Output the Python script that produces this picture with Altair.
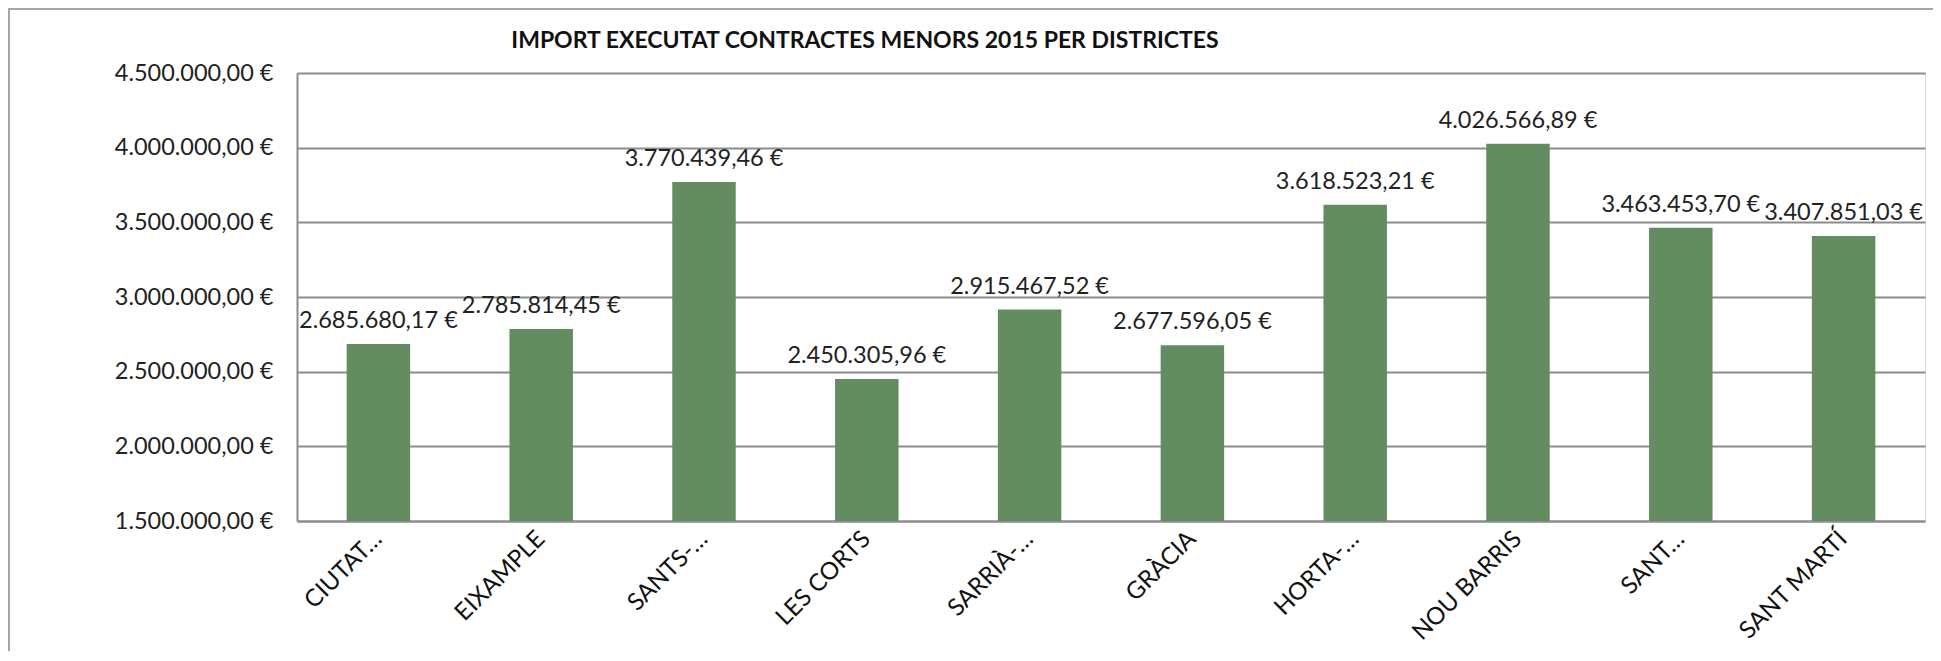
import altair as alt
import pandas as pd

districts = ["CIUTAT…", "EIXAMPLE", "SANTS-…", "LES CORTS", "SARRIÀ-…",
             "GRÀCIA", "HORTA-…", "NOU BARRIS", "SANT…", "SANT MARTÍ"]
amounts = [2685680.17, 2785814.45, 3770439.46, 2450305.96, 2915467.52,
           2677596.05, 3618523.21, 4026566.89, 3463453.70, 3407851.03]
y_ticks = [1500000, 2000000, 2500000, 3000000, 3500000, 4000000, 4500000]
title_text = "IMPORT EXECUTAT CONTRACTES MENORS 2015 PER DISTRICTES"


def eur(v):
    s = f"{v:,.2f}".replace(",", "X").replace(".", ",").replace("X", ".")
    return s + " €"


labels = [eur(v) for v in amounts]
df = pd.DataFrame({"district": districts, "amount": amounts, "label": labels})

FONT = "Lato"
GRID = "#8c8c8c"
BAR = "#638d60"

x_enc = alt.X("district:N", sort=districts, title=None,
              scale=alt.Scale(paddingInner=0.61, paddingOuter=0.305),
              axis=alt.Axis(labelAngle=-45, labelAlign="right", labelBaseline="middle",
                            labelFontSize=24, labelFont=FONT, labelColor="#111111",
                            labelPadding=14, ticks=False, domainColor=GRID,
                            domainWidth=2, labelLimit=300))
y_scale = alt.Scale(domain=[1500000, 4500000], zero=False, nice=False)
y_axis = alt.Axis(values=y_ticks, title=None, grid=True, gridColor=GRID, gridWidth=2,
                  domainColor=GRID, domainWidth=2, ticks=False, labelPadding=24,
                  labelFontSize=23.5, labelFont=FONT, labelColor="#222222",
                  labelExpr="replace(replace(replace(format(datum.value, ',.2f'), regexp(',', 'g'), 'X'), regexp('\\\\.', 'g'), ','), regexp('X', 'g'), '.') + ' €'")

base = alt.Chart(df)

bars = base.mark_bar(color=BAR).encode(
    x=x_enc,
    y=alt.Y("amount:Q", scale=y_scale, axis=y_axis),
    y2=alt.datum(1500000),
)

text = base.mark_text(baseline="bottom", dy=-11, fontSize=23.5, font=FONT,
                      color="#222222").encode(
    x=alt.X("district:N", sort=districts),
    y=alt.Y("amount:Q"),
    text="label:N",
)

border = base.mark_rect(fill=None, stroke="#a6a6a6", strokeWidth=2).encode(
    x=alt.value(-288), y=alt.value(-64), x2=alt.value(1800), y2=alt.value(800)
)

title = alt.Chart(pd.DataFrame({"t": [title_text]})).mark_text(
    align="center", baseline="middle", fontSize=23, font=FONT, fontWeight="bold",
    color="#111111"
).encode(text="t:N", x=alt.value(568), y=alt.value(-32))

chart = alt.layer(border, bars, text, title).properties(
    width=1628, height=448,
    padding={"left": 289, "top": 65, "right": 8, "bottom": 130},
    autosize=alt.AutoSizeParams(type="none"),
).configure_view(stroke=None).configure(background="white")

chart.save("out.html", embed_options={"renderer": "svg", "actions": False})
